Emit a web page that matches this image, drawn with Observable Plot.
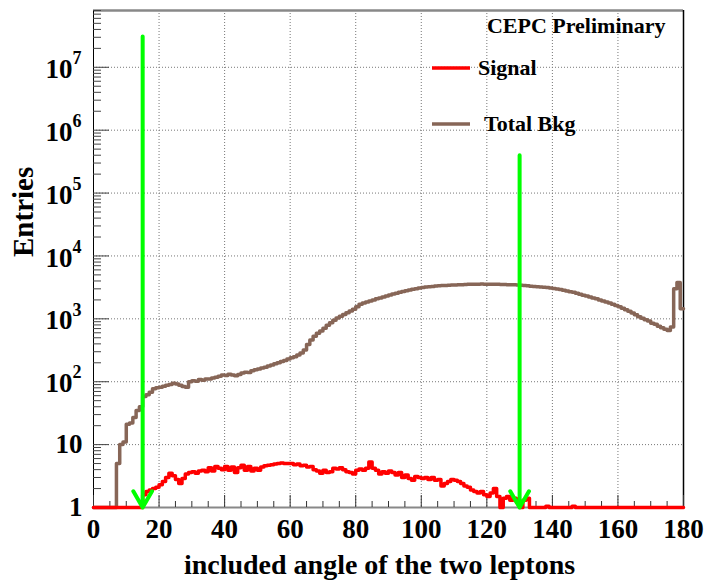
<!DOCTYPE html>
<html><head><meta charset="utf-8">
<script src="https://cdn.jsdelivr.net/npm/d3@7"></script>
<script src="https://cdn.jsdelivr.net/npm/@observablehq/plot@0.6"></script>
<style>body{margin:0;background:#fff}</style>
</head><body><div id="chart"></div>
<script>
// Total background entries per 1-degree bin (0..179)
const bkg = [
  0,0,0,0,0,0,0,5,10,11,
  21,22,27,35,40,58,62,68,77,80,
  82,85,88,90,95,92,88,84,82,100,
  104,102,108,106,111,110,115,118,122,128,
  126,132,128,124,130,138,142,140,150,155,
  160,165,170,178,185,193,200,210,218,230,
  240,250,265,285,320,390,460,530,590,640,
  710,790,870,950,1030,1100,1170,1250,1330,1420,
  1550,1700,1780,1850,1920,2000,2080,2150,2230,2300,
  2400,2480,2560,2640,2720,2800,2880,2950,3020,3100,
  3150,3200,3250,3280,3320,3350,3380,3400,3420,3440,
  3460,3480,3500,3520,3540,3550,3560,3560,3570,3560,
  3550,3560,3560,3550,3530,3520,3500,3480,3470,3450,
  3420,3390,3350,3310,3280,3250,3220,3180,3150,3100,
  3040,2980,2920,2850,2780,2700,2640,2560,2460,2380,
  2300,2220,2150,2080,2000,1920,1850,1780,1700,1630,
  1560,1480,1400,1320,1240,1160,1080,1020,970,920,
  850,820,760,720,680,650,740,3000,3800,1450
];
// Signal entries per 1-degree bin (0..179)
const sig = [
  0,0,0,0,0,0,0,0,0,0,
  0,0,0,0,0,1.6,1.8,1.9,2.0,2.1,
  2.3,2.6,3.0,3.5,3.2,2.8,2.4,2.9,3.4,3.6,
  3.7,3.5,3.8,3.9,3.7,4.3,3.8,4.5,4.2,4.0,
  4.5,3.9,4.4,3.6,4.3,4.7,3.9,4.5,3.8,4.2,
  3.9,4.4,4.6,4.7,4.8,4.9,5.0,5.1,5.0,5.0,
  5.0,4.8,4.9,4.6,4.7,4.4,4.5,4.0,3.8,3.5,
  3.9,3.6,3.7,4.2,4.1,4.3,4.0,3.7,3.6,3.4,
  3.9,4.1,3.9,4.2,5.3,4.2,3.9,3.4,3.7,3.5,
  3.8,3.6,3.3,3.6,3.0,3.3,2.9,2.7,3.1,3.0,
  2.9,3.0,2.8,3.0,2.7,2.8,2.2,2.4,2.6,2.8,
  2.7,2.6,2.4,2.2,2.1,1.9,1.8,1.7,1.8,1.6,
  1.5,1.7,2.0,1.5,1.0,1.4,1.5,1.3,1.4,1.2,
  1.0,1.3,1.4,0,0,0,0,0,1.05,0,
  0,0,0,0,0,0,1.05,0,0,0,
  0,0,0,0,0,0,0,0,0,0,
  0,0,0,0,0,0,0,0,0,0,
  0,0,0,0,0,0,0,0,0,0
];
const cutX = [15, 130];
const cutTop = [3.1e7, 4e5];
const xTickLabels = [0,20,40,60,80,100,120,140,160,180];
const yTickValues = [1,10,1e2,1e3,1e4,1e5,1e6,1e7];
const yTickBase = ["1","10","10","10","10","10","10","10"];
const yTickExp = ["","","2","3","4","5","6","7"];
const seriesNames = ["Signal","Total Bkg"];
const seriesColors = ["#ff0000","#876657"];

const W = 708, H = 580, mL = 93, mR = 25, mT = 10, mB = 73;
const pw = W - mL - mR, ph = H - mT - mB;
const FONT = "Liberation Serif";

const toLine = arr => d3.range(181).map(i => ({x: i, y: Math.max(arr[Math.min(i, 179)], 1)}));
const bkgLine = toLine(bkg), sigLine = toLine(sig);
const cuts = cutX.map((x, i) => ({x, top: cutTop[i]}));
const minorX = d3.range(0, 181, 5).filter(v => v % 20 !== 0);
const minorY = [];
for (let e = 0; e < 8; e++) for (let m = 2; m <= 9; m++) { const v = m * 10 ** e; if (v <= 8e7) minorY.push(v); }
const yLab = yTickValues.map((v, i) => ({v, base: yTickBase[i], exp: yTickExp[i]}));

const chart = Plot.plot({
  width: W, height: H,
  marginLeft: mL, marginRight: mR, marginTop: mT, marginBottom: mB,
  style: {fontFamily: FONT, fontWeight: "bold", background: "#fff"},
  x: {domain: [0, 180], axis: null},
  y: {type: "log", domain: [1, 8e7], axis: null},
  marks: [
    // grid
    Plot.ruleX(xTickLabels.filter(v => v > 0 && v < 180), {stroke: "#777", strokeDasharray: "1,2", strokeWidth: 1}),
    Plot.ruleY(yTickValues.filter(v => v > 1), {stroke: "#777", strokeDasharray: "1,2", strokeWidth: 1}),
    // frame
    Plot.ruleY([8e7], {stroke: "#888", strokeWidth: 2.5}),
    Plot.ruleY([1], {stroke: "#888", strokeWidth: 2}),
    Plot.ruleX([0], {stroke: "#000", strokeWidth: 1}),
    Plot.ruleX([180], {stroke: "#000", strokeWidth: 1.5}),
    // ticks
    Plot.ruleX(xTickLabels, {insetTop: ph - 12, stroke: "#333", strokeWidth: 1}),
    Plot.ruleX(minorX, {insetTop: ph - 6, stroke: "#333", strokeWidth: 1}),
    Plot.ruleY(yTickValues, {insetRight: pw - 16, stroke: "#444", strokeWidth: 1}),
    Plot.ruleY(minorY, {insetRight: pw - 8, stroke: "#444", strokeWidth: 1}),
    // histograms
    Plot.line(bkgLine, {x: "x", y: "y", curve: "step-after", stroke: seriesColors[1], strokeWidth: 3.5}),
    Plot.line(sigLine, {x: "x", y: "y", curve: "step-after", stroke: seriesColors[0], strokeWidth: 3.5}),
    // cut arrows
    Plot.arrow(cuts, {x: "x", y1: "top", y2: () => 1, stroke: "#00ff00", strokeWidth: 4, headLength: 7, headAngle: 60}),
    // tick labels
    Plot.text(xTickLabels, {x: d => d, frameAnchor: "bottom", lineAnchor: "top", dy: 11, text: d => String(d), fontSize: 27, fontWeight: "bold"}),
    Plot.text(yLab.filter(d => d.exp === ""), {y: "v", frameAnchor: "left", textAnchor: "end", dx: -11, text: "base", fontSize: 27, fontWeight: "bold"}),
    Plot.text(yLab.filter(d => d.exp !== ""), {y: "v", frameAnchor: "left", textAnchor: "end", dx: -21, dy: 2, text: "base", fontSize: 27, fontWeight: "bold"}),
    Plot.text(yLab.filter(d => d.exp !== ""), {y: "v", frameAnchor: "left", textAnchor: "start", dx: -21, dy: -9, text: "exp", fontSize: 18, fontWeight: "bold"}),
    // axis titles
    Plot.text(["included angle of the two leptons"], {frameAnchor: "bottom", lineAnchor: "middle", dx: -9, dy: 58, fontSize: 28, fontWeight: "bold"}),
    Plot.text(["Entries"], {frameAnchor: "left", lineAnchor: "middle", dx: -70, dy: -2, rotate: -90, fontSize: 29, fontWeight: "bold"}),
    Plot.text(["CEPC Preliminary"], {frameAnchor: "top-right", textAnchor: "end", lineAnchor: "top", dx: -18, dy: 7, fontSize: 22, fontWeight: "bold"})
  ]
});

// legend (added into the same svg)
const svg = d3.select(chart);
const leg = svg.append("g").attr("font-family", FONT).attr("font-weight", "bold").attr("font-size", 22).attr("text-anchor", "start");
const legY = [68, 124], legTX = [478, 484];
seriesNames.forEach((n, i) => {
  leg.append("line").attr("x1", 432).attr("x2", 470).attr("y1", legY[i]).attr("y2", legY[i])
    .attr("stroke", seriesColors[i]).attr("stroke-width", 3.5);
  leg.append("text").attr("x", legTX[i]).attr("y", legY[i] + 7).attr("fill", "#000").attr("text-anchor", "start").text(n);
});
document.getElementById("chart").appendChild(chart);
</script>
</body></html>
